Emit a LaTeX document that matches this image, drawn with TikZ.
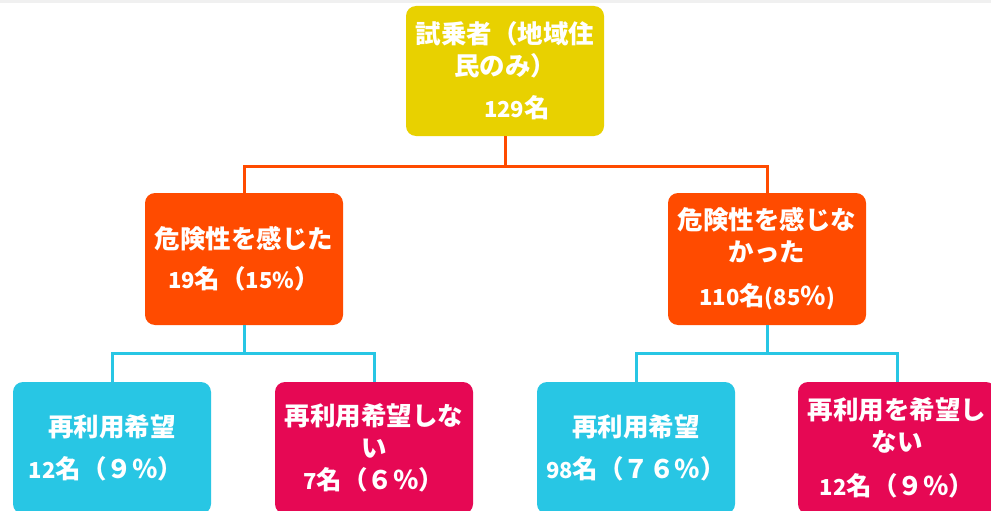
\documentclass[tikz,border=0pt]{standalone}
\usepackage{fontspec}
\setmainfont{Noto Sans CJK JP}
\definecolor{yel}{RGB}{232,209,0}
\definecolor{org}{RGB}{255,75,0}
\definecolor{cya}{RGB}{40,198,228}
\definecolor{pnk}{RGB}{230,8,84}
\newcommand{\dg}[1]{{\fontsize{22}{32}\selectfont #1}}
\tikzset{
  box/.style={rounded corners=10pt, minimum width=198pt, minimum height=132pt, align=center,
    text=white, font=\fontsize{25.5}{32}\selectfont\bfseries, inner sep=0pt},
  oline/.style={draw=org, line width=3pt},
  cline/.style={draw=cya, line width=3pt}
}
\begin{document}
\begin{tikzpicture}[x=1pt,y=-1pt]
\useasboundingbox (0,0) rectangle (991,511);
\clip (0,0) rectangle (991,511);
\fill[white] (0,0) rectangle (991,511);
\fill[gray!12] (0,0) rectangle (991,3);
\node[box, fill=yel, minimum height=130pt] (top) at (505,71) {試乗者（地域住\\民のみ）\\[10pt]\hspace*{24pt}\dg{129}名};
\node[box, fill=org] (lm) at (244,259) {危険性を感じた\\[8pt]\dg{19}名（\dg{15\%}）};
\node[box, fill=org] (rm) at (767,259) {危険性を感じな\\かった\\[12pt]\dg{110}名\dg{(85}％\dg{)}};
\node[box, fill=cya] (b1) at (112,448) {再利用希望\\[10pt]\dg{12}名（９％）\hspace*{12pt}};
\node[box, fill=pnk] (b2) at (374,448) {再利用希望しな\\い\\\dg{7}名（６％）};
\node[box, fill=cya] (b3) at (636,448) {再利用希望\\[10pt]\dg{98}名（７６％）};
\node[box, fill=pnk] (b4) at (897,448) {再利用を希望し\\ない\\[12pt]\dg{12}名（９％）};
\coordinate (j1) at (505,166);
\coordinate (j2) at (244,353);
\coordinate (j3) at (767,353);
\draw[oline] (top.south) -- (j1);
\draw[oline] (j1) -| (lm.north);
\draw[oline] (j1) -| (rm.north);
\draw[cline] (lm.south) -- (j2);
\draw[cline] (j2) -| (b1.north);
\draw[cline] (j2) -| (b2.north);
\draw[cline] (rm.south) -- (j3);
\draw[cline] (j3) -| (b3.north);
\draw[cline] (j3) -| (b4.north);
\end{tikzpicture}
\end{document}
